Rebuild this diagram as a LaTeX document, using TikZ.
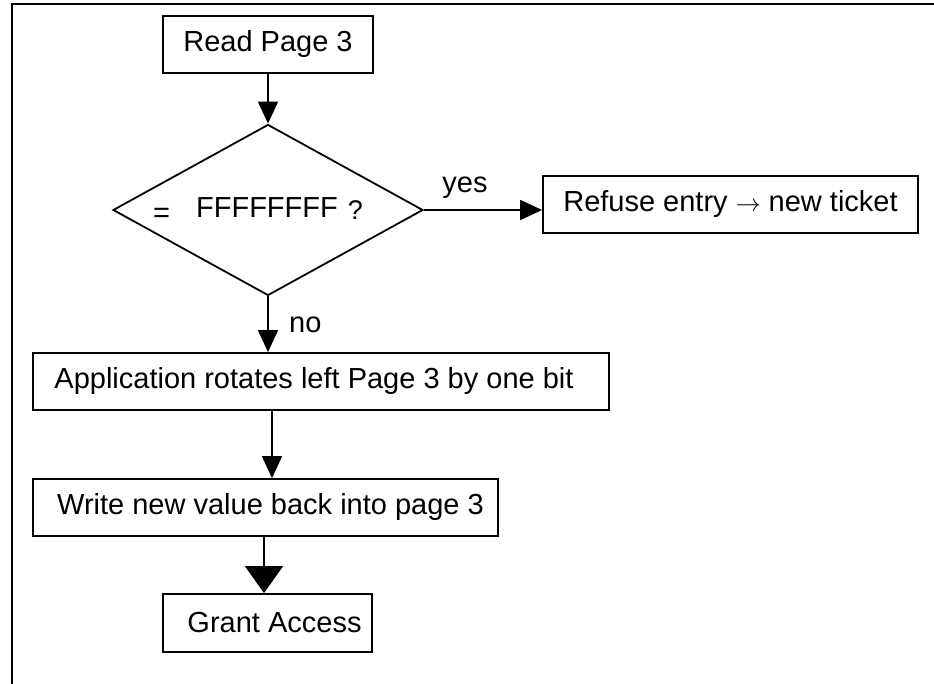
\documentclass[tikz,border=0pt]{standalone}
\usepackage{fontspec}
\setmainfont{Liberation Sans}
\usetikzlibrary{shapes.geometric,arrows.meta}
\tikzset{
  box/.style={draw, line width=1.8pt, rectangle, inner sep=0pt, font=\fontsize{29}{34}\selectfont},
  dec/.style={draw, line width=1.8pt, diamond, aspect=1.81, inner sep=0pt, minimum width=310pt, minimum height=171pt, font=\fontsize{29}{34}\selectfont},
  lbl/.style={inner sep=0pt, font=\fontsize{29}{34}\selectfont},
  conn/.style={line width=1.8pt, -{Triangle[length=22pt,width=20pt]}},
  bigconn/.style={line width=1.8pt, -{Triangle[length=27pt,width=38pt]}},
  frame/.style={line width=2.2pt}
}
\begin{document}
\begin{tikzpicture}[x=1pt,y=-1pt]
\useasboundingbox (0,0) rectangle (934,684);
\coordinate (fbl) at (12,690);
\coordinate (ftl) at (12,4);
\coordinate (ftr) at (940,4);
\draw[frame] (fbl) -- (ftl) -- (ftr);

\node[box, minimum width=210pt, minimum height=57pt] (read) at (268,44.5) {Read Page 3};
\node[dec] (dia) at (268,210) {\raisebox{-5pt}{\fontsize{29}{32}\selectfont =}\hspace*{26pt}FFFFFFFF\hspace*{10pt}\raisebox{-2pt}{\fontsize{27}{30}\selectfont ?}\hspace*{20pt}};
\node[box, minimum width=375pt, minimum height=57pt] (refuse) at (730.5,204.5) {Refuse entry $\rightarrow$ new ticket};
\node[box, minimum width=576pt, minimum height=57pt] (app) at (321,381.5) {Application rotates left Page 3 by one bit\hspace*{14pt}};
\node[box, minimum width=465pt, minimum height=57pt] (write) at (265.5,507.5) {\hspace*{10pt}Write new value back into page 3};
\node[box, minimum width=209pt, minimum height=58pt] (grant) at (267.5,623) {\hspace*{14pt}Grant Access};

\draw[conn] (read.south) -- (dia.north);
\draw[conn] (dia.east) -- (dia.east -| refuse.west);
\draw[conn] (dia.south) -- (dia.south |- app.north);
\draw[conn] ([xshift=-49pt]app.south) -- ([xshift=-49pt]app.south |- write.north);
\draw[bigconn] ([xshift=-1.5pt]write.south) -- ([xshift=-1.5pt]write.south |- grant.north);

\node[lbl, anchor=base] (yes) at (465,193) {yes};
\node[lbl, anchor=base west] (no) at (289,333) {no};
\end{tikzpicture}
\end{document}
